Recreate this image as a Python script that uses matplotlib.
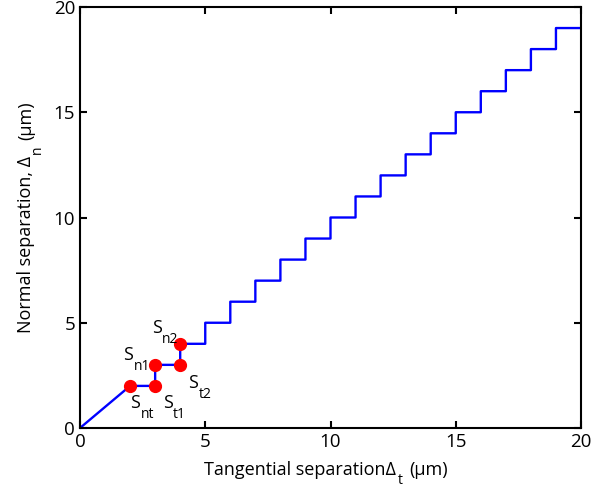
import matplotlib
matplotlib.use("Agg")
import matplotlib.pyplot as plt
from matplotlib.transforms import IdentityTransform

plt.rcParams['font.family'] = ['Open Sans', 'DejaVu Sans']

# staircase path vertices (tangential, normal) in um
path_t = [0, 1, 2, 3, 3, 4, 4, 5, 5, 6, 6, 7, 7, 8, 8, 9, 9, 10, 10, 11, 11, 12, 12,
          13, 13, 14, 14, 15, 15, 16, 16, 17, 17, 18, 18, 19, 19, 20]
path_n = [0, 1, 2, 2, 3, 3, 4, 4, 5, 5, 6, 6, 7, 7, 8, 8, 9, 9, 10, 10, 11, 11, 12,
          12, 13, 13, 14, 14, 15, 15, 16, 16, 17, 17, 18, 18, 19, 19]

pts_t = [2, 3, 3, 4, 4]
pts_n = [2, 2, 3, 3, 4]

label_subs = ['nt', 't1', 'n1', 't2', 'n2']
label_t = [2.0, 3.31, 1.72, 4.31, 2.87]
label_n = [0.95, 0.95, 3.23, 1.90, 4.51]

xlabel_parts = ['Tangential separation\u0394', 't', '(\u03bcm)']
ylabel_parts = ['Normal separation, \u0394', 'n', '(\u03bcm)']

W, H = 604, 490
fig = plt.figure(figsize=(W / 100, H / 100), dpi=100)
ax = fig.add_axes([80 / W, 1 - 428 / H, 501 / W, 421 / H])
ax.plot(path_t, path_n, color='#0000ff', lw=1.7)
ax.plot(pts_t, pts_n, 'o', color='#ff0000', ms=8.5, mec='#ff0000')

ax.set_xlim(0, 20)
ax.set_ylim(0, 20)
ax.set_xticks([0, 5, 10, 15, 20])
ax.set_yticks([0, 5, 10, 15, 20])
ax.tick_params(direction='in', top=True, right=True, labelsize=13.5, width=1.5, length=5)
for s in ax.spines.values():
    s.set_linewidth(1.5)

fig.canvas.draw()
r = fig.canvas.get_renderer()

MAIN, SUB, DROP = 13, 10, 10


def measure(t, rot):
    bb = t.get_window_extent(r)
    return bb.width if rot == 0 else bb.height


def compose(parts, center, base, rot, drop):
    specs = [(parts[0], MAIN, 0, 0), (parts[1], SUB, drop, 2), (parts[2], MAIN, 0, 6)]
    objs = []
    total = 0
    for s, size, dr, gap in specs:
        t = fig.text(0, 0, s, fontsize=size, rotation=rot, rotation_mode='anchor',
                     ha='left', va='baseline', transform=IdentityTransform())
        w = measure(t, rot)
        objs.append((t, dr, gap, w))
        total += gap + w
    pos = center - total / 2
    for t, dr, gap, w in objs:
        pos += gap
        if rot == 0:
            t.set_position((pos, base - dr))
        else:
            t.set_position((base + dr, pos))
        pos += w


compose(xlabel_parts, 326, H - 475, 0, 9)
compose(ylabel_parts, H - 217, 31, 90, DROP)

# point labels: "S" with lowered subscript
for sub, x, y in zip(label_subs, label_t, label_n):
    px, py = ax.transData.transform((x, y))
    t = fig.text(px, py, 'S', fontsize=MAIN, ha='left', va='baseline',
                 transform=IdentityTransform())
    w = measure(t, 0)
    fig.text(px + w + 0.5, py - DROP, sub, fontsize=SUB, ha='left', va='baseline',
             transform=IdentityTransform())

fig.savefig('out.png', dpi=100)
